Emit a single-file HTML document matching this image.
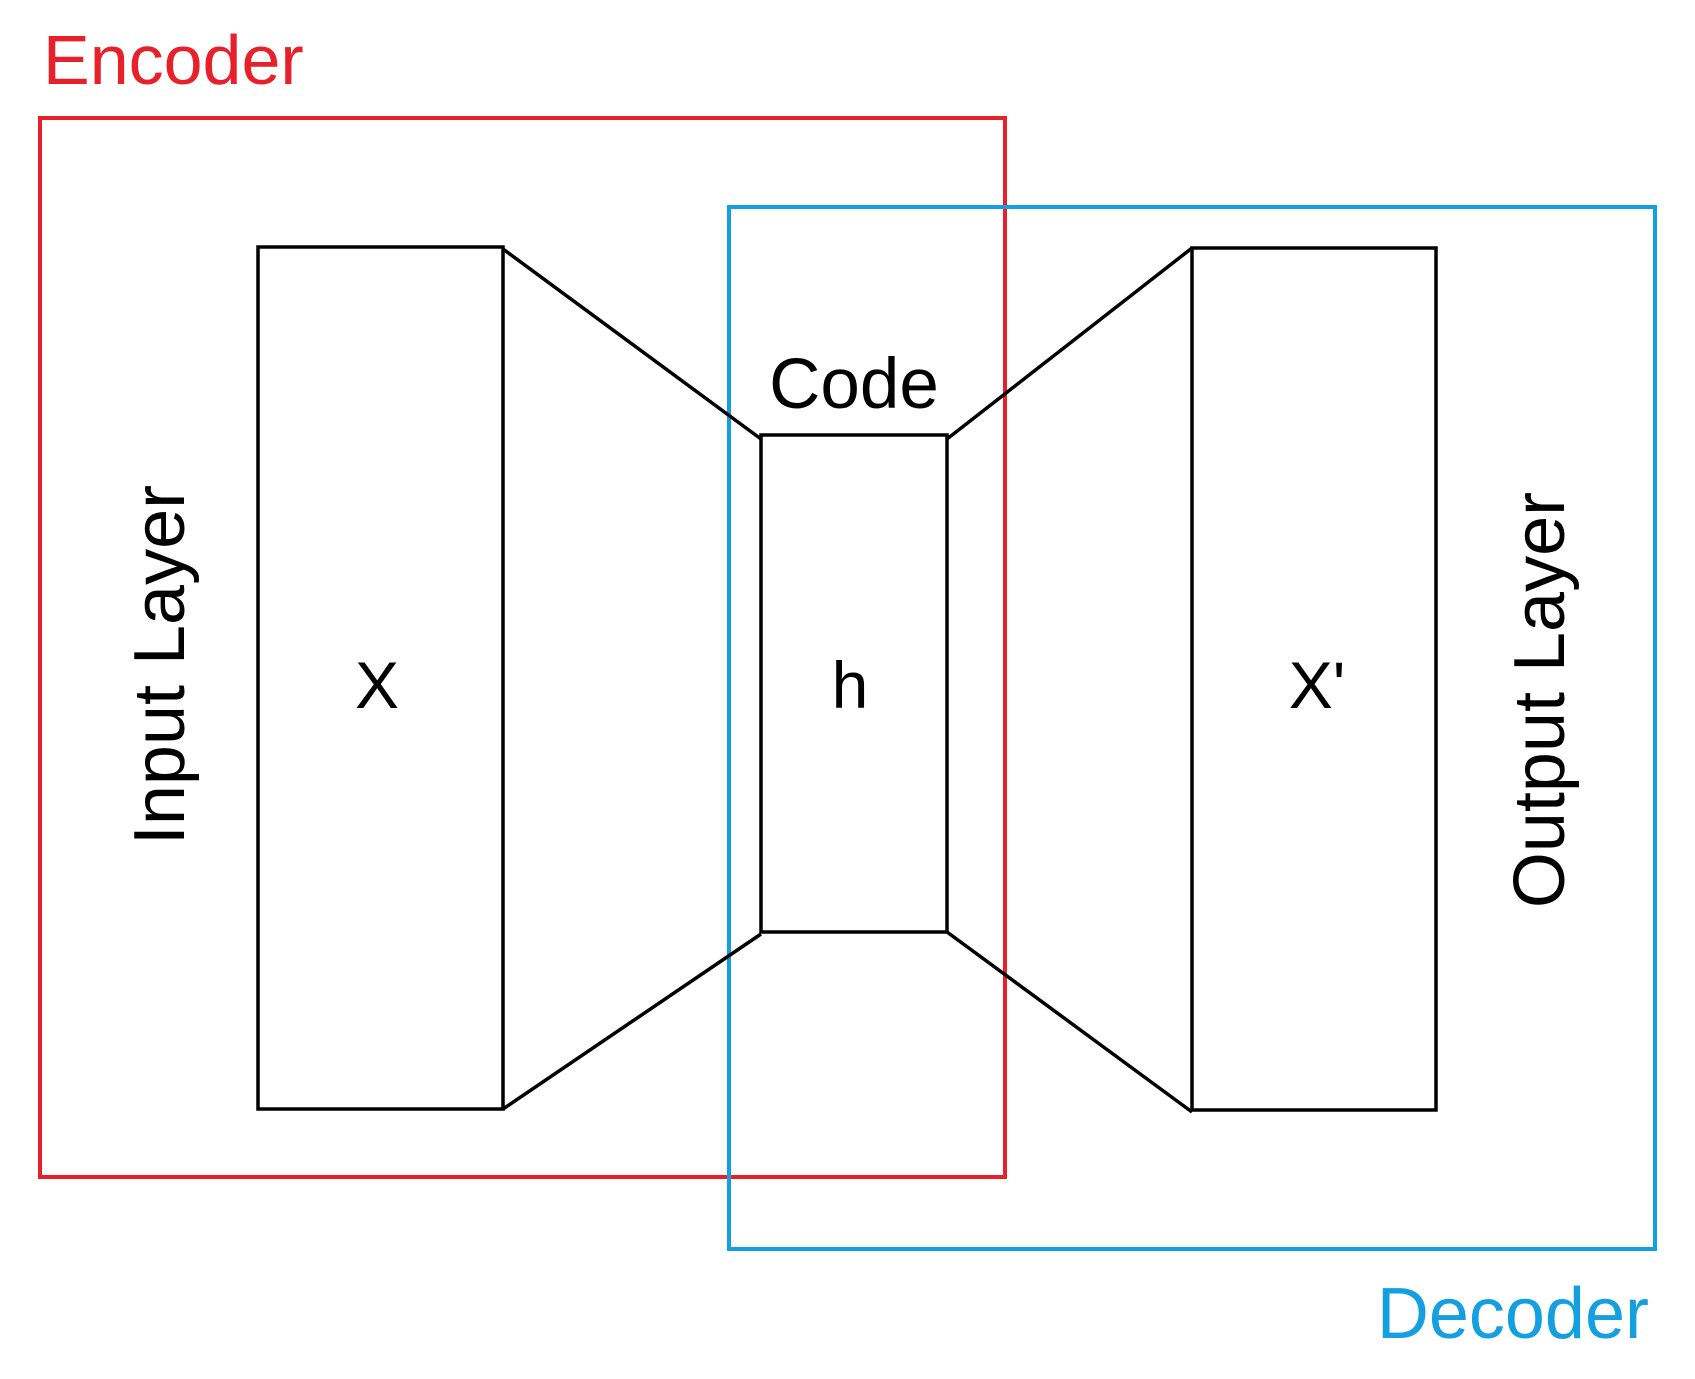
<!DOCTYPE html>
<html><head><meta charset="utf-8"><style>
html,body{margin:0;padding:0;background:#fff}
svg{display:block}
text{font-family:"Liberation Sans","DejaVu Sans",sans-serif}
</style></head><body>
<svg width="1695" height="1379" viewBox="0 0 1695 1379">
<rect x="40" y="118" width="965" height="1059" fill="none" stroke="#e8202a" stroke-width="4"/>
<rect x="729" y="207" width="926" height="1042" fill="none" stroke="#14a0e0" stroke-width="4"/>
<text x="43" y="84" font-size="70" fill="#e8202a">Encoder</text>
<text x="1649" y="1338" font-size="72" fill="#14a0e0" text-anchor="end">Decoder</text>
<rect x="258" y="247" width="245" height="862" fill="none" stroke="#000" stroke-width="3.5"/>
<rect x="761" y="435" width="186" height="497" fill="none" stroke="#000" stroke-width="3.5"/>
<rect x="1192" y="248" width="244" height="862" fill="none" stroke="#000" stroke-width="3.5"/>
<g stroke="#000" stroke-width="3.5">
<line x1="503" y1="249" x2="761" y2="439"/>
<line x1="503" y1="1109" x2="761" y2="934"/>
<line x1="947" y1="439" x2="1192" y2="248"/>
<line x1="947" y1="932" x2="1192" y2="1112"/>
</g>
<text x="854" y="408" font-size="71" text-anchor="middle">Code</text>
<text x="377" y="708" font-size="66" text-anchor="middle">X</text>
<text x="850" y="708" font-size="66" text-anchor="middle">h</text>
<text x="1317" y="708" font-size="66" text-anchor="middle">X'</text>
<text transform="translate(184,665) rotate(-90)" font-size="72" text-anchor="middle">Input Layer</text>
<text transform="translate(1564,700) rotate(-90)" font-size="72" text-anchor="middle">Output Layer</text>
</svg>
</body></html>
